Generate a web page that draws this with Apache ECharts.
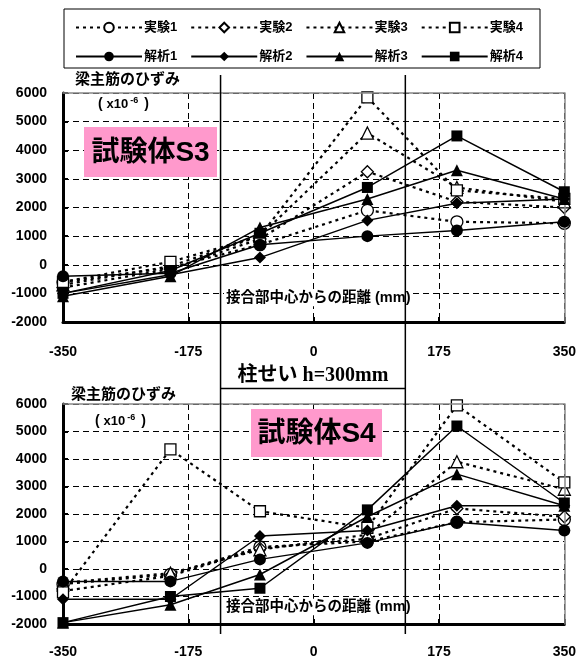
<!DOCTYPE html>
<html><head><meta charset="utf-8">
<script src="https://cdn.jsdelivr.net/npm/echarts@6/dist/echarts.min.js"></script>
<style>html,body{margin:0;padding:0;background:#fff}#c{width:579px;height:660px}</style>
</head><body><div id="c"></div>
<script>
// distance from joint centre (mm)
const distances = [-350, -200, -75, 75, 200, 350];
// column faces (mm, as drawn)
const columnFaces = [-130, 128];
const seriesNames = ['実験1', '実験2', '実験3', '実験4', '解析1', '解析2', '解析3', '解析4'];
// Specimen S3 (x10^-6)
const s3Exp1 = [-600, -100, 700, 1900, 1500, 1450];
const s3Exp2 = [-800, -150, 900, 3250, 2200, 2000];
const s3Exp3 = [-700, -50, 1000, 4600, 2700, 2200];
const s3Exp4 = [-600, 100, 1000, 5850, 2600, 2300];
const s3Ana1 = [-400, -300, 700, 1000, 1200, 1500];
const s3Ana2 = [-1000, -350, 250, 1550, 2150, 2300];
const s3Ana3 = [-1100, -400, 1300, 2300, 3300, 2300];
const s3Ana4 = [-1000, -200, 1100, 2700, 4500, 2550];
// Specimen S4 (x10^-6)
const s4Exp1 = [-550, -200, 800, 1000, 1700, 1800];
const s4Exp2 = [-800, -250, 750, 1100, 2200, 1900];
const s4Exp3 = [-500, -150, 700, 1250, 3900, 2900];
const s4Exp4 = [-850, 4350, 2100, 1500, 5950, 3150];
const s4Ana1 = [-450, -450, 350, 950, 1700, 1400];
const s4Ana2 = [-1100, -1100, 1200, 1400, 2300, 2300];
const s4Ana3 = [-1950, -1300, -200, 1900, 3450, 2300];
const s4Ana4 = [-1950, -1000, -700, 2150, 5200, 2400];

const F = "'Liberation Sans', 'Noto Sans CJK JP', sans-serif";
const symbols = ['circle', 'diamond', 'triangle', 'rect'];
const symSizes = [12, 12, 12, 11];

function mk(name, arr, gi, k, isExp) {
  const s = {
    name: name, type: 'line', xAxisIndex: gi * 2, yAxisIndex: gi * 2,
    data: distances.map((d, i) => [d, arr[i]]),
    symbol: symbols[k], symbolSize: symSizes[k], z: isExp ? 2 : 3,
    emphasis: {disabled: true}
  };
  if (isExp) {
    s.lineStyle = {color: '#000', width: 2.2, type: [3, 4]};
    s.itemStyle = {color: '#fff', borderColor: '#000', borderWidth: 1.3};
  } else {
    s.lineStyle = {color: '#000', width: 1.5};
    s.itemStyle = {color: '#000'};
  }
  return s;
}
const s3Exp = [s3Exp1, s3Exp2, s3Exp3, s3Exp4], s3Ana = [s3Ana1, s3Ana2, s3Ana3, s3Ana4];
const s4Exp = [s4Exp1, s4Exp2, s4Exp3, s4Exp4], s4Ana = [s4Ana1, s4Ana2, s4Ana3, s4Ana4];
const series = [];
[[s3Exp, s3Ana], [s4Exp, s4Ana]].forEach((g, gi) => {
  g[0].forEach((a, k) => series.push(mk(seriesNames[k], a, gi, k, true)));
  g[1].forEach((a, k) => series.push(mk(seriesNames[4 + k], a, gi, k, false)));
});

const plain = v => String(v);
const dash = {show: true, lineStyle: {color: '#000', width: 1, type: [6, 4]}};
function xMain(gi, margin) {
  return {type: 'value', gridIndex: gi, min: -350, max: 350, interval: 175,
    axisLine: {onZero: false, lineStyle: {color: '#000', width: 3}},
    axisTick: {inside: true, length: 5, lineStyle: {color: '#000', width: 2}},
    axisLabel: {margin: margin, color: '#000', fontSize: 14, fontWeight: 'bold', fontFamily: F, formatter: plain},
    splitLine: dash};
}
function xTop(gi) {
  return {type: 'value', gridIndex: gi, position: 'top', min: -350, max: 350, z: 3,
    axisLine: {onZero: false, lineStyle: {color: '#888', width: 1.5}},
    axisTick: {show: false}, axisLabel: {show: false}, splitLine: {show: false}};
}
function yMain(gi) {
  return {type: 'value', gridIndex: gi, min: -2000, max: 6000, interval: 1000,
    axisLine: {show: true, onZero: false, lineStyle: {color: '#000', width: 3}},
    axisTick: {show: true, inside: true, length: 5, lineStyle: {color: '#000', width: 2}},
    axisLabel: {margin: 16, color: '#000', fontSize: 14, fontWeight: 'bold', fontFamily: F, formatter: plain},
    splitLine: dash};
}
function yRight(gi) {
  return {type: 'value', gridIndex: gi, position: 'right', min: -2000, max: 6000, z: 3,
    axisLine: {show: true, onZero: false, lineStyle: {color: '#888', width: 1.5}},
    axisTick: {show: false}, axisLabel: {show: false}, splitLine: {show: false}};
}

const legendBase = {itemWidth: 66, itemHeight: 12, itemGap: 13, selectedMode: false,
  textStyle: {color: '#000', fontSize: 13, fontWeight: 'bold', fontFamily: F, padding: [0, 0, 0, -3]}};

const chart = echarts.init(document.getElementById('c'), null, {renderer: 'canvas'});
chart.setOption({
  animation: false,
  backgroundColor: '#fff',
  grid: [
    {left: 63, right: 10, top: 93, height: 229},
    {left: 63, right: 13, top: 404, height: 220}
  ],
  xAxis: [xMain(0, 23), xTop(0), xMain(1, 21), xTop(1)],
  yAxis: [yMain(0), yRight(0), yMain(1), yRight(1)],
  legend: [
    Object.assign({}, legendBase, {left: 70, top: 16, data: seriesNames.slice(0, 4)}),
    Object.assign({}, legendBase, {left: 70, top: 45, data: seriesNames.slice(4)})
  ],
  series: series
});

function px(gi, x, y) { return chart.convertToPixel({xAxisIndex: gi * 2, yAxisIndex: gi * 2}, [x, y]); }
const topLeft = px(0, columnFaces[0], 6000), topRight = px(0, columnFaces[1], 6000);
const botLeft = px(1, columnFaces[0], -2000);
const cx1 = topLeft[0], cx2 = topRight[0];
const lineTop = 75, lineBot = botLeft[1] + 10;

function txt(x, y, t, size, extra) {
  return Object.assign({type: 'text', x: x, y: y, z: 20,
    style: {text: t, fill: '#000', font: 'bold ' + size + 'px ' + F, textVerticalAlign: 'middle'}}, extra || {});
}
function unitText(x, y) {
  return {type: 'text', x: x, y: y, z: 20, style: {
    text: '{a|( }{b|x10}{s|-6}{a| )}', textVerticalAlign: 'middle',
    rich: {a: {fontSize: 14, fontWeight: 'bold', fontFamily: F, color: '#000'},
           b: {fontSize: 13, fontWeight: 'bold', fontFamily: F, color: '#000'},
           s: {fontSize: 9, fontWeight: 'bold', fontFamily: F, color: '#000', verticalAlign: 'top', padding: [0, 2, 6, 2]}}}};
}
function pinkBox(x, y, w, h, t) {
  return [
    {type: 'rect', z: 15, shape: {x: x, y: y, width: w, height: h}, style: {fill: '#ff99cc'}},
    {type: 'text', z: 16, x: x + w / 2, y: y + h / 2 + 1, style: {text: t, fill: '#000',
      font: 'bold 28px ' + F, textAlign: 'center', textVerticalAlign: 'middle'}}
  ];
}
function distLabel(y) {
  return {type: 'text', x: 224, y: y, z: 20, style: {text: '接合部中心からの距離 (mm)', fill: '#000',
    font: 'bold 14.5px ' + F, textVerticalAlign: 'middle', backgroundColor: '#fff', padding: [1, 2, 1, 2]}};
}

const g = [
  {type: 'rect', z: 20, shape: {x: 64, y: 9, width: 476, height: 59}, style: {fill: 'none', stroke: '#000', lineWidth: 1}},
  txt(75, 80, '梁主筋のひずみ', 15),
  txt(71, 395, '梁主筋のひずみ', 15),
  unitText(98, 104),
  unitText(95, 421),
  distLabel(298),
  distLabel(607),
  {type: 'line', z: 21, shape: {x1: cx1, y1: lineTop, x2: cx1, y2: lineBot}, style: {stroke: '#000', lineWidth: 1.5}},
  {type: 'line', z: 21, shape: {x1: cx2, y1: lineTop, x2: cx2, y2: lineBot}, style: {stroke: '#000', lineWidth: 1.5}},
  {type: 'line', z: 21, shape: {x1: cx1, y1: 388.5, x2: cx2, y2: 388.5}, style: {stroke: '#000', lineWidth: 1.5}},
  {type: 'text', z: 21, x: (cx1 + cx2) / 2, y: 376, style: {text: '柱せい h=300mm', fill: '#000',
    font: 'bold 20px \'Liberation Serif\', \'Noto Sans CJK JP\', serif', textAlign: 'center', textVerticalAlign: 'middle'}}
].concat(pinkBox(84, 127, 133, 50, '試験体S3'), pinkBox(251, 409, 131, 48, '試験体S4'));

chart.setOption({graphic: g});
</script>
</body></html>
